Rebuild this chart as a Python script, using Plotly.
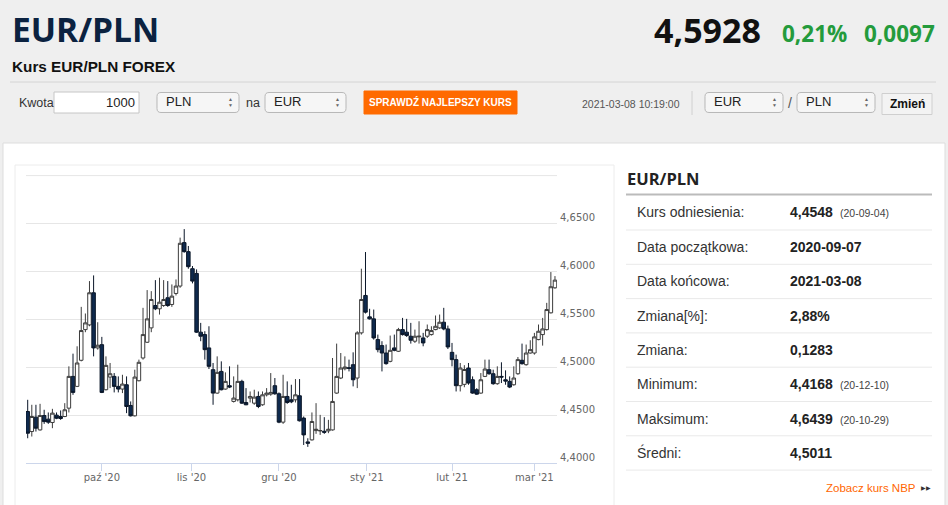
import plotly.graph_objects as go
import pandas as pd

W, H = 948, 505
def X(p): return p / W
def Y(p): return 1 - p / H

# ---------------- data ----------------
holidays = ['2020-12-25', '2021-01-01']
dates = [d for d in pd.bdate_range('2020-09-07', '2021-03-08')
         if d.strftime('%Y-%m-%d') not in holidays]

opens = [4.4537, 4.4328, 4.4478, 4.4345, 4.4495, 4.4457, 4.4422, 4.4499, 4.4485, 4.4485,
         4.4572, 4.4903, 4.4799, 4.5071, 4.5391, 4.5440, 4.5775, 4.5200, 4.5234, 4.4764,
         4.4896, 4.4903, 4.4799, 4.4771, 4.4816, 4.4600, 4.4492, 4.4858, 4.5095, 4.5259,
         4.5409, 4.5642, 4.5608, 4.5642, 4.5723, 4.5653, 4.5768, 4.5845, 4.6298, 4.6204,
         4.6026, 4.5977, 4.5364, 4.5339, 4.5200, 4.4973, 4.4729, 4.4955, 4.4771, 4.4806,
         4.4642, 4.4659, 4.4851, 4.4631, 4.4677, 4.4624, 4.4694, 4.4607, 4.4711, 4.4718,
         4.4806, 4.4722, 4.4426, 4.4694, 4.4659, 4.4659, 4.4701, 4.4468, 4.4220, 4.4241,
         4.4338, 4.4335, 4.4331, 4.4335, 4.4345, 4.4729, 4.4886, 4.4983, 4.4994, 4.5025,
         4.4886, 4.5357, 4.5747, 4.5524, 4.5503, 4.5287, 4.5224, 4.5147, 4.5060, 4.5200,
         4.5165, 4.5391, 4.5364, 4.5322, 4.5270, 4.5315, 4.5304, 4.5322, 4.5339, 4.5391,
         4.5409, 4.5468, 4.5398, 4.5154, 4.5078, 4.4806, 4.4820, 4.4990, 4.4868, 4.4764,
         4.4729, 4.4903, 4.4973, 4.4931, 4.4827, 4.4903, 4.4868, 4.4851, 4.4816, 4.4931,
         4.5071, 4.5025, 4.5147, 4.5147, 4.5287, 4.5339, 4.5391, 4.5566, 4.5827]
highs = [4.4659, 4.4607, 4.4607, 4.4617, 4.4555, 4.4527, 4.4565, 4.4527, 4.4548, 4.4624,
         4.5008, 4.5140, 4.5217, 4.5628, 4.5559, 4.5897, 4.5956, 4.5468, 4.5315, 4.5112,
         4.5043, 4.4938, 4.4903, 4.4920, 4.4903, 4.4642, 4.4973, 4.5078, 4.5618, 4.5803,
         4.5792, 4.5907, 4.5932, 4.5907, 4.5897, 4.5862, 4.5914, 4.6350, 4.6439, 4.6263,
         4.6054, 4.6019, 4.5461, 4.5374, 4.5426, 4.5043, 4.5112, 4.5060, 4.4945, 4.5008,
         4.4903, 4.5025, 4.4868, 4.4781, 4.4746, 4.4764, 4.4746, 4.4746, 4.4781, 4.4938,
         4.4886, 4.4736, 4.4920, 4.4851, 4.4816, 4.4875, 4.4875, 4.4485, 4.4258, 4.4527,
         4.4624, 4.4502, 4.4478, 4.4450, 4.5095, 4.5245, 4.5147, 4.5112, 4.5078, 4.5154,
         4.5374, 4.6026, 4.6200, 4.5608, 4.5600, 4.5339, 4.5270, 4.5235, 4.5329, 4.5339,
         4.5409, 4.5513, 4.5503, 4.5461, 4.5391, 4.5478, 4.5357, 4.5444, 4.5426, 4.5538,
         4.5548, 4.5618, 4.5433, 4.5252, 4.5130, 4.5043, 4.5020, 4.5043, 4.4903, 4.4780,
         4.4938, 4.5078, 4.5078, 4.4973, 4.5008, 4.5050, 4.4966, 4.4903, 4.5008, 4.5105,
         4.5245, 4.5235, 4.5280, 4.5357, 4.5444, 4.5513, 4.5670, 4.5991, 4.5949]
lows = [4.4258, 4.4276, 4.4328, 4.4338, 4.4408, 4.4408, 4.4363, 4.4457, 4.4450, 4.4478,
        4.4527, 4.4711, 4.4792, 4.5060, 4.5364, 4.5426, 4.5112, 4.5182, 4.4729, 4.4757,
        4.4781, 4.4736, 4.4736, 4.4729, 4.4520, 4.4485, 4.4485, 4.4851, 4.5078, 4.5252,
        4.5364, 4.5594, 4.5548, 4.5628, 4.5628, 4.5628, 4.5747, 4.5827, 4.6193, 4.6026,
        4.5873, 4.5357, 4.5270, 4.5078, 4.4980, 4.4607, 4.4722, 4.4757, 4.4764, 4.4781,
        4.4631, 4.4642, 4.4617, 4.4603, 4.4631, 4.4607, 4.4572, 4.4597, 4.4694, 4.4701,
        4.4711, 4.4415, 4.4408, 4.4617, 4.4624, 4.4631, 4.4433, 4.4188, 4.4168, 4.4234,
        4.4304, 4.4293, 4.4304, 4.4311, 4.4338, 4.4722, 4.4875, 4.4966, 4.4955, 4.4799,
        4.4781, 4.5339, 4.5559, 4.5496, 4.5287, 4.5154, 4.4955, 4.5025, 4.5050, 4.5165,
        4.5158, 4.5329, 4.5315, 4.5245, 4.5252, 4.5245, 4.5217, 4.5304, 4.5329, 4.5384,
        4.5398, 4.5384, 4.5189, 4.5008, 4.4746, 4.4746, 4.4790, 4.4816, 4.4722, 4.4711,
        4.4722, 4.4896, 4.4920, 4.4816, 4.4816, 4.4834, 4.4816, 4.4781, 4.4806, 4.4920,
        4.5025, 4.5015, 4.5140, 4.5130, 4.5280, 4.5224, 4.5381, 4.5559, 4.5817]
closes = [4.4311, 4.4485, 4.4363, 4.4495, 4.4432, 4.4426, 4.4520, 4.4467, 4.4464, 4.4555,
          4.4903, 4.4736, 4.5043, 4.5381, 4.5461, 4.5775, 4.5200, 4.5228, 4.4736, 4.5018,
          4.4931, 4.4799, 4.4771, 4.4823, 4.4589, 4.4492, 4.4896, 4.5050, 4.5339, 4.5503,
          4.5705, 4.5608, 4.5677, 4.5705, 4.5642, 4.5740, 4.5845, 4.6291, 4.6204, 4.6047,
          4.5897, 4.5364, 4.5322, 4.5182, 4.5008, 4.4729, 4.4945, 4.4764, 4.4851, 4.4792,
          4.4677, 4.4851, 4.4624, 4.4607, 4.4694, 4.4687, 4.4589, 4.4711, 4.4729, 4.4736,
          4.4722, 4.4426, 4.4694, 4.4631, 4.4638, 4.4711, 4.4440, 4.4293, 4.4206, 4.4433,
          4.4352, 4.4338, 4.4321, 4.4352, 4.4642, 4.4903, 4.4990, 4.5001, 4.4987, 4.4868,
          4.5357, 4.5705, 4.5573, 4.5503, 4.5304, 4.5182, 4.5147, 4.5036, 4.5175, 4.5175,
          4.5391, 4.5339, 4.5329, 4.5280, 4.5322, 4.5322, 4.5252, 4.5391, 4.5381, 4.5426,
          4.5468, 4.5398, 4.5210, 4.5078, 4.4806, 4.4990, 4.4975, 4.4834, 4.4729, 4.4718,
          4.4868, 4.4980, 4.4931, 4.4827, 4.4903, 4.4896, 4.4854, 4.4792, 4.4886, 4.5078,
          4.5036, 4.5147, 4.5182, 4.5315, 4.5374, 4.5398, 4.5600, 4.5838, 4.5907]

y_ticks = [4.40, 4.45, 4.50, 4.55, 4.60, 4.65, 4.70]
y_ticktext = ['4,4000', '4,4500', '4,5000', '4,5500', '4,6000', '4,6500', '']
x_tickvals = ['2020-10-01 12:00', '2020-11-02 06:00', '2020-12-01 12:00',
              '2020-12-31 20:00', '2021-02-01 12:00', '2021-03-01 12:00']
x_ticktext = ["paź '20", "lis '20", "gru '20", "sty '21", "lut '21", "mar '21"]

table_labels = ['Kurs odniesienia:', 'Data początkowa:', 'Data końcowa:', 'Zmiana[%]:',
                'Zmiana:', 'Minimum:', 'Maksimum:', 'Średni:']
table_values = ['4,4548', '2020-09-07', '2021-03-08', '2,88%', '0,1283', '4,4168', '4,6439', '4,5011']
table_dates = ['(20-09-04)', '', '', '', '', '(20-12-10)', '(20-10-29)', '']

# ---------------- figure ----------------
xs = [d + pd.Timedelta(hours=12) for d in dates]

fig = go.Figure()
fig.add_trace(go.Candlestick(
    x=xs, open=opens, high=highs, low=lows, close=closes,
    increasing=dict(line=dict(color='#3c3c3c', width=1), fillcolor='#ffffff'),
    decreasing=dict(line=dict(color='#0a1628', width=1), fillcolor='#0f2a4e'),
    whiskerwidth=0, hoverinfo='x+y', showlegend=False))

AXF = dict(family='DejaVu Sans', size=10, color='#666666')
fig.update_layout(
    width=W, height=H, margin=dict(l=0, r=0, t=0, b=0, pad=0, autoexpand=False),
    autosize=False,
    paper_bgcolor='#efefef', plot_bgcolor='rgba(0,0,0,0)',
    showlegend=False, boxgap=0.15, boxgroupgap=0,
    xaxis=dict(type='date', domain=[X(26), X(557)], automargin=False,
               range=['2020-09-07 02:10', '2021-03-08 23:45'],
               rangebreaks=[dict(bounds=['sat', 'mon']), dict(values=holidays)],
               rangeslider=dict(visible=False),
               showgrid=False, zeroline=False, showline=True, linecolor='#ccd6eb', linewidth=1,
               ticks='outside', ticklen=7, tickcolor='#ccd6eb', tickwidth=1,
               ticklabelstandoff=-2,
               tickvals=x_tickvals, ticktext=x_ticktext, tickfont=AXF, fixedrange=True),
    yaxis=dict(domain=[Y(463), Y(175.3)], range=[4.40, 4.70], side='right', automargin=False,
               tickvals=y_ticks, ticktext=y_ticktext, showgrid=True, gridcolor='#e6e6e6',
               gridwidth=1, zeroline=False, showline=False, ticks='',
               ticklabelshift=-6, ticklabelstandoff=2, tickfont=AXF, fixedrange=True),
)

shapes = []
anns = []

def rect(x0, y0, x1, y1, fill, line='rgba(0,0,0,0)', lw=1, layer='below'):
    shapes.append(dict(type='rect', xref='paper', yref='paper', x0=X(x0), x1=X(x1),
                       y0=Y(y0), y1=Y(y1), fillcolor=fill, line=dict(color=line, width=lw),
                       layer=layer))

def rrect(x0, y0, x1, y1, r, fill, line, lw=1):
    pts = lambda a, b: f'{X(a):.5f},{Y(b):.5f}'
    p = (f'M {pts(x0 + r, y0)} L {pts(x1 - r, y0)} Q {pts(x1, y0)} {pts(x1, y0 + r)} '
         f'L {pts(x1, y1 - r)} Q {pts(x1, y1)} {pts(x1 - r, y1)} L {pts(x0 + r, y1)} '
         f'Q {pts(x0, y1)} {pts(x0, y1 - r)} L {pts(x0, y0 + r)} Q {pts(x0, y0)} {pts(x0 + r, y0)} Z')
    shapes.append(dict(type='path', xref='paper', yref='paper', path=p, fillcolor=fill,
                       line=dict(color=line, width=lw), layer='below'))

def hline(x0, x1, y, color, lw=1):
    shapes.append(dict(type='line', xref='paper', yref='paper', x0=X(x0), x1=X(x1),
                       y0=Y(y), y1=Y(y), line=dict(color=color, width=lw), layer='below'))

def vline(x, y0, y1, color, lw=1):
    shapes.append(dict(type='line', xref='paper', yref='paper', x0=X(x), x1=X(x),
                       y0=Y(y0), y1=Y(y1), line=dict(color=color, width=lw), layer='below'))

def text(x, y, s, size, color='#333333', family='Liberation Sans, Arial', weight='normal',
         xanchor='left'):
    anns.append(dict(xref='paper', yref='paper', x=X(x), y=Y(y), text=s, showarrow=False,
                     xanchor=xanchor, yanchor='middle', borderpad=0,
                     font=dict(size=size, color=color, family=family, weight=weight)))

# page panels
rect(3, 143, 945, 520, '#ffffff', '#dddddd')
rect(15, 165, 614, 520, '#ffffff', '#ececec')
hline(26, 557, 175.6, '#e6e6e6')

# header
text(11, 29, 'EUR/PLN', 33.5, '#0b2240', 'Open Sans', 'bold')
text(11, 66, 'Kurs EUR/PLN FOREX', 15.3, '#111111', 'Liberation Sans, Arial', 'bold')
text(762, 30, '4,5928', 34, '#111111', 'Open Sans', 'bold', 'right')
text(848, 33, '0,21%', 22.5, '#249b3c', 'Open Sans', 'bold', 'right')
text(936, 33, '0,0097', 22.5, '#249b3c', 'Open Sans', 'bold', 'right')
hline(10, 936, 82, '#d4d4d4')

# form row
text(18, 103, 'Kwota', 12.5, '#333333')
rect(54, 92, 139, 113, '#ffffff', '#c6c6c6')
text(136, 103, '1000', 13, '#222222', xanchor='right')
for (x0, x1, lab) in [(157, 239, 'PLN'), (265, 346, 'EUR'), (705, 783, 'EUR'), (797, 875, 'PLN')]:
    rrect(x0, 92.5, x1, 112.5, 4, '#f6f6f6', '#b8b8b8')
    text(x0 + 8, 102, lab, 13, '#222222')
    text(x1 - 9, 99.5, '▲', 5, '#666666', xanchor='center')
    text(x1 - 9, 105.5, '▼', 5, '#666666', xanchor='center')
text(245, 103, 'na', 12.5, '#333333')
rect(364, 91, 517, 114, '#ff6a00', '#ff6a00', layer='below')
text(440.5, 102.5, 'SPRAWDŹ NAJLEPSZY KURS', 10, '#ffffff', 'Liberation Sans, Arial', 'bold', 'center')
text(681, 104.5, '2021-03-08 10:19:00', 10.5, '#555555', xanchor='right')
vline(692, 91, 115, '#d0d0d0')
text(790, 103, '/', 14, '#555555', xanchor='center')
rect(882, 93.5, 932, 114.5, '#f3f3f3', '#cfcfcf')
text(907, 104, 'Zmień', 12, '#111111', 'Liberation Sans, Arial', 'bold', 'center')

# table
text(626, 178.5, 'EUR/PLN', 16.5, '#222222', 'Open Sans', 'bold')
hline(626, 932, 194.5, '#bbbbbb', 2)
for i, (lab, val, dt) in enumerate(zip(table_labels, table_values, table_dates)):
    yc = 212.5 + 34.35 * i
    text(636, yc, lab, 14, '#333333')
    text(789, yc, val, 14, '#222222', 'Liberation Sans, Arial', 'bold')
    if dt:
        text(839, yc + 1, dt, 10.5, '#444444')
    hline(626, 932, 230 + 34.3 * i, '#e9e9e9')
text(917, 487.5, 'Zobacz kurs NBP', 11.5, '#ff6600', xanchor='right')
text(926, 488, '▶▶', 5.5, '#333333', xanchor='center')

fig.update_layout(shapes=shapes, annotations=anns)

post = ("var s=document.createElement('style');"
        "s.innerHTML='html,body{margin:0!important;padding:0!important;overflow:hidden!important;"
        "background:#ffffff;line-height:0;font-size:0;}';"
        "document.head.appendChild(s);")
fig.write_html('out.html', config={'displayModeBar': False, 'responsive': False},
               post_script=post)
